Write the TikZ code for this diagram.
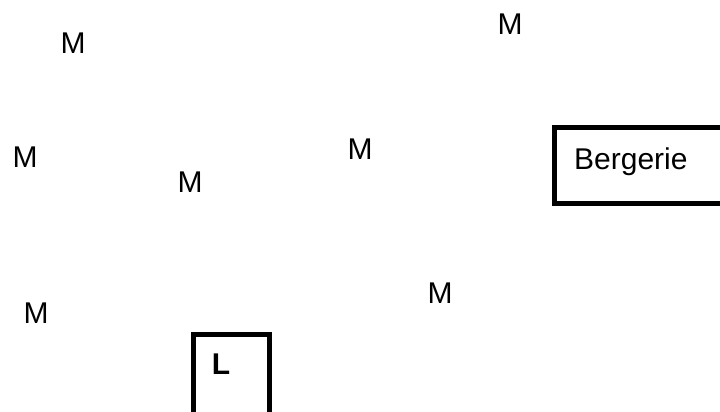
\documentclass[tikz,border=0pt]{standalone}
\usepackage{fontspec}
\setmainfont{Liberation Sans}
\begin{document}
\begin{tikzpicture}
  [x=1pt,y=-1pt,every node/.style={inner sep=0pt,font=\fontsize{30}{35}\selectfont},
   hut/.style={draw=black,line width=4.5pt,fill=none}]
  \useasboundingbox (0,0) rectangle (720,412);
  \clip (0,0) rectangle (720,412);

  % Moutons
  \node (m1) at (73,43) {M};
  \node (m2) at (510,24) {M};
  \node (m3) at (25,157) {M};
  \node (m4) at (360,149) {M};
  \node (m5) at (190,182) {M};
  \node (m6) at (440,293) {M};
  \node (m7) at (36,313) {M};

  % Bergerie (coupee par le bord droit)
  \node[hut, minimum width=210pt, minimum height=76pt, anchor=north west] (berg) at (552,125) {};
  \node[anchor=base west] (bergtxt) at (574,169) {Bergerie};

  % Loup (coupe par le bord bas)
  \node[hut, minimum width=76pt, minimum height=110pt, anchor=north west] (loup) at (191,332) {};
  \node[font=\fontsize{30}{35}\selectfont\bfseries] (ltxt) at (221,364) {L};
\end{tikzpicture}
\end{document}
